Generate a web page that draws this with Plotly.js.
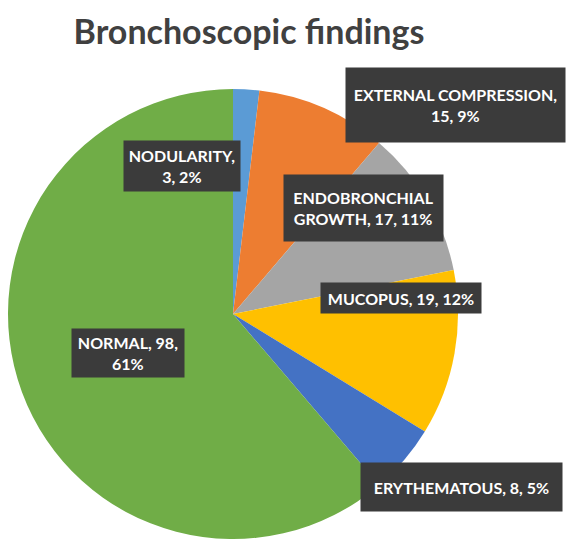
<!DOCTYPE html>
<html>
<head>
<meta charset="utf-8">
<script src="https://cdn.plot.ly/plotly-3.0.1.min.js"></script>
<style>
  html, body { margin: 0; padding: 0; background: #fff; }
  #pie { width: 571px; height: 551px; }
</style>
</head>
<body>
<div id="pie"></div>
<script>
// DATA
var findings = ['NODULARITY', 'EXTERNAL COMPRESSION', 'ENDOBRONCHIAL GROWTH', 'MUCOPUS', 'ERYTHEMATOUS', 'NORMAL'];
var counts = [3, 15, 17, 19, 8, 98];
var colors = ['#5B9BD5', '#ED7D31', '#A5A5A5', '#FFC000', '#4472C4', '#70AD47'];

var PIE = document.getElementById('pie');
var W = 571, H = 551;

var total = counts.reduce(function(a, b) { return a + b; }, 0);

// label text, with the line breaks the original uses
function label_text(i)
  {
    var pct = Math.round(counts[i] / total * 100) + '%';
    var name = findings[i];
    if (i == 0 || i == 1) return name + ',<br>' + counts[i] + ', ' + pct;
    if (i == 2) return 'ENDOBRONCHIAL<br>GROWTH, ' + counts[i] + ', ' + pct;
    if (i == 5) return name + ', ' + counts[i] + ',<br>' + pct;
    return name + ', ' + counts[i] + ', ' + pct;
  }

// label boxes in pixels: centre x, centre y, width, height
var boxes = [
  [182, 166, 116, 50],
  [456, 105, 219, 74],
  [363, 208, 159, 66],
  [401, 298, 160, 30],
  [461, 487, 201, 48],
  [128, 353, 112, 48]
];

var annotations = boxes.map(function(b, i) {
  return {
    xref: 'paper', yref: 'paper',
    x: b[0] / W, y: 1 - b[1] / H,
    xanchor: 'center', yanchor: 'middle',
    text: '<b>' + label_text(i) + '</b>',
    showarrow: false,
    width: b[2], height: b[3],
    borderpad: 0,
    bgcolor: '#3b3b3b',
    font: {family: 'Lato, "Open Sans", sans-serif', size: 16, color: '#ffffff'},
    align: 'center', valign: 'middle'
  };
});

var trace = {
  type: 'pie',
  labels: findings,
  values: counts,
  sort: false,
  direction: 'clockwise',
  rotation: 0,
  marker: {colors: colors, line: {width: 0}},
  textinfo: 'none',
  hoverinfo: 'none',
  domain: {x: [8 / W, 458 / W], y: [1 - 539 / H, 1 - 89 / H]}
};

var layout = {
  width: W, height: H,
  margin: {l: 0, r: 0, t: 0, b: 0},
  showlegend: false,
  title: {
    text: '<b>Bronchoscopic findings</b>',
    font: {family: 'Lato, "Open Sans", sans-serif', size: 34, color: '#404040'},
    x: 249 / W, xanchor: 'center',
    y: 1 - 32 / H, yanchor: 'middle'
  },
  annotations: annotations,
  paper_bgcolor: '#ffffff',
  plot_bgcolor: '#ffffff'
};

Plotly.newPlot(PIE, [trace], layout, {displayModeBar: false, staticPlot: true});
</script>
</body>
</html>
